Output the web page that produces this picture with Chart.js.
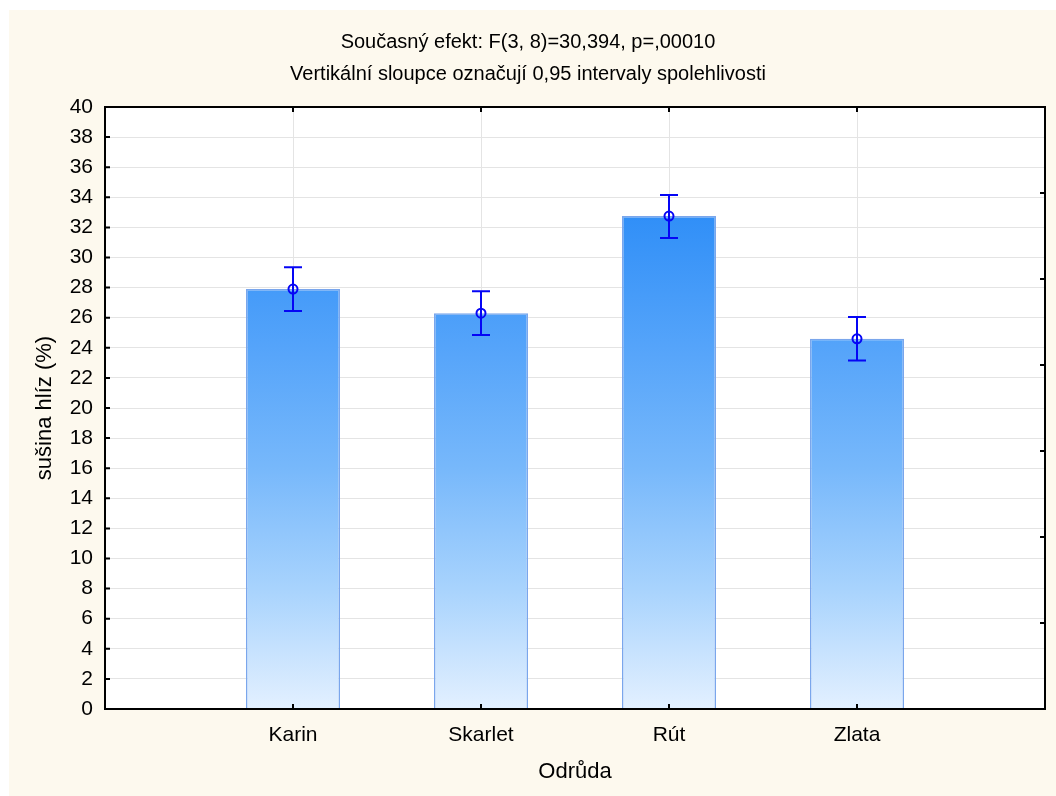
<!DOCTYPE html>
<html>
<head>
<meta charset="utf-8">
<script src="https://cdn.jsdelivr.net/npm/chart.js@4/dist/chart.umd.min.js"></script>
<style>
html,body{margin:0;padding:0;background:#ffffff;}
#wrap{width:1056px;height:796px;position:relative;}
</style>
</head>
<body>
<div id="wrap"><canvas id="c" width="1056" height="796"></canvas></div>
<script>
const categories = ['Karin', 'Skarlet', 'Rút', 'Zlata'];
const means = [27.9, 26.3, 32.75, 24.6];
const ciLow = [26.45, 24.85, 31.3, 23.15];
const ciHigh = [29.35, 27.75, 34.15, 26.05];
const yTicks = [0, 2, 4, 6, 8, 10, 12, 14, 16, 18, 20, 22, 24, 26, 28, 30, 32, 34, 36, 38, 40];
const titleLines = ['Současný efekt: F(3, 8)=30,394, p=,00010', 'Vertikální sloupce označují 0,95 intervaly spolehlivosti'];
const xTitle = 'Odrůda';
const yTitle = 'sušina hlíz (%)';

const FONT = '"Liberation Sans", Arial, sans-serif';
const barPoints = categories.map((c, i) => ({x: i + 1, y: means[i]}));

function barGradient(ctx) {
  const chart = ctx.chart;
  const a = chart.chartArea;
  if (!a) return '#5aa6fa';
  const y = chart.scales.y;
  const g = chart.ctx.createLinearGradient(0, y.getPixelForValue(40), 0, y.getPixelForValue(0));
  g.addColorStop(0, '#1a82f5');
  g.addColorStop(0.15, '#2b8cf7');
  g.addColorStop(0.4, '#55a4fa');
  g.addColorStop(0.6, '#77b8fb');
  g.addColorStop(0.8, '#a8d3fd');
  g.addColorStop(1, '#e3f0ff');
  return g;
}

const decor = {
  id: 'decor',
  beforeDraw(chart) {
    const c = chart.ctx;
    c.save();
    c.fillStyle = '#ffffff';
    c.fillRect(0, 0, chart.width, chart.height);
    c.fillStyle = '#fdf9ee';
    c.fillRect(9, 10, chart.width - 9, chart.height - 10);
    const a = chart.chartArea;
    c.fillStyle = '#ffffff';
    c.fillRect(a.left, a.top, a.right - a.left, a.bottom - a.top);
    c.fillStyle = '#000';
    c.font = '20px ' + FONT;
    c.textAlign = 'center';
    c.textBaseline = 'middle';
    const cx = chart.width / 2;
    c.fillText(titleLines[0], cx, 42);
    c.fillText(titleLines[1], cx, 74);
    c.restore();
  },
  afterDatasetsDraw(chart) {
    const c = chart.ctx;
    const xs = chart.scales.x, ys = chart.scales.y, y2 = chart.scales.y2;
    const a = chart.chartArea;
    c.save();
    // error bars
    c.strokeStyle = '#0505f5';
    c.lineWidth = 2;
    categories.forEach((cat, i) => {
      const px = xs.getPixelForValue(i + 1);
      const lo = ys.getPixelForValue(ciLow[i]);
      const hi = ys.getPixelForValue(ciHigh[i]);
      c.beginPath();
      c.moveTo(px, lo); c.lineTo(px, hi);
      c.moveTo(px - 9, lo); c.lineTo(px + 9, lo);
      c.moveTo(px - 9, hi); c.lineTo(px + 9, hi);
      c.stroke();
      const m = ys.getPixelForValue(means[i]);
      c.beginPath();
      c.arc(px, m, 4.5, 0, Math.PI * 2);
      c.stroke();
    });
    // frame
    c.strokeStyle = '#000';
    c.lineWidth = 2;
    c.strokeRect(a.left, a.top, a.right - a.left, a.bottom - a.top);
    // inward ticks
    c.beginPath();
    yTicks.forEach(v => {
      const py = ys.getPixelForValue(v);
      c.moveTo(a.left, py); c.lineTo(a.left + 5, py);
    });
    categories.forEach((cat, i) => {
      const px = xs.getPixelForValue(i + 1);
      c.moveTo(px, a.bottom); c.lineTo(px, a.bottom - 5);
      c.moveTo(px, a.top); c.lineTo(px, a.top + 5);
    });
    for (let v = 1; v < 7; v++) {
      const py = y2.getPixelForValue(v);
      c.moveTo(a.right, py); c.lineTo(a.right - 5, py);
    }
    c.stroke();
    c.restore();
  }
};

new Chart(document.getElementById('c'), {
  type: 'bar',
  data: {
    datasets: [{
      data: barPoints,
      backgroundColor: barGradient,
      borderColor: '#7aa6ec',
      borderWidth: 1.5,
      borderSkipped: 'bottom',
      barPercentage: 0.5,
      categoryPercentage: 1.0
    }]
  },
  plugins: [decor],
  options: {
    responsive: false,
    animation: false,
    layout: {padding: {left: 0, right: 11, top: 107, bottom: 0}},
    plugins: {legend: {display: false}, tooltip: {enabled: false}},
    scales: {
      x: {
        type: 'linear',
        offset: false,
        min: 0, max: 5,
        afterFit(s) { s.height = 87; s.paddingLeft = 0; s.paddingRight = 0; },
        border: {display: false},
        grid: {
          offset: false,
          drawTicks: false,
          color: ctx => (ctx.tick && ctx.tick.value >= 1 && ctx.tick.value <= 4) ? '#e4e4e4' : 'rgba(0,0,0,0)',
          lineWidth: 1
        },
        ticks: {
          stepSize: 1,
          padding: 14,
          color: '#000',
          font: {family: FONT, size: 21},
          callback: v => (v >= 1 && v <= categories.length) ? categories[v - 1] : ''
        },
        title: {display: true, text: xTitle, color: '#000', font: {family: FONT, size: 22}, padding: {top: 4, bottom: 11}}
      },
      y: {
        min: 0, max: 40,
        afterFit(s) { s.width = 105; s.paddingTop = 0; s.paddingBottom = 0; },
        afterBuildTicks(s) { s.ticks = yTicks.map(v => ({value: v})); },
        border: {display: false},
        grid: {drawTicks: false, color: '#e4e4e4', lineWidth: 1},
        ticks: {padding: 12, color: '#000', font: {family: FONT, size: 21}},
        title: {display: true, text: yTitle, color: '#000', font: {family: FONT, size: 22}, padding: {top: 32, bottom: 0}}
      },
      y2: {
        display: false,
        position: 'right',
        min: 0, max: 7
      }
    }
  }
});
</script>
</body>
</html>
